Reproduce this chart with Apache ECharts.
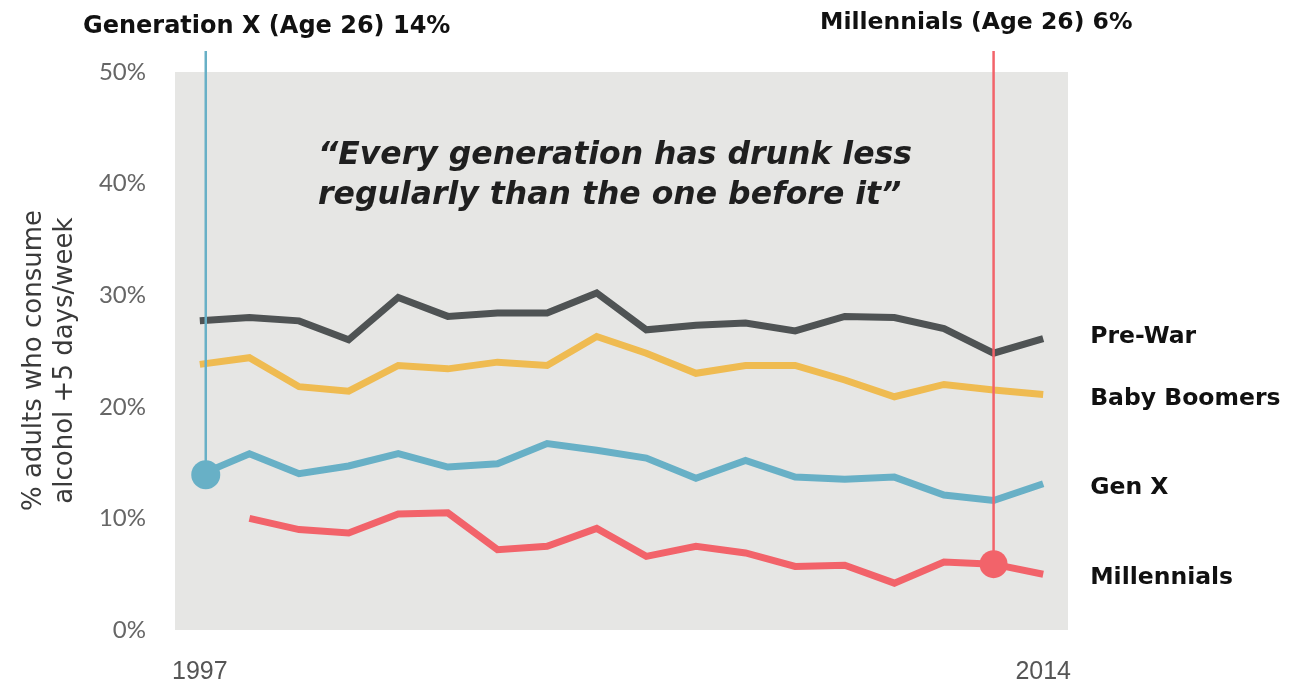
<!DOCTYPE html>
<html>
<head>
<meta charset="utf-8">
<script src="https://cdn.jsdelivr.net/npm/echarts@6/dist/echarts.min.js"></script>
<style>
  html, body { margin: 0; padding: 0; background: #ffffff; }
  #chart { width: 1301px; height: 686px; }
</style>
</head>
<body>
<div id="chart"></div>
<script>
// ---- data ----
const years = [1997, 1998, 1999, 2000, 2001, 2002, 2003, 2004, 2005, 2006, 2007, 2008, 2009, 2010, 2011, 2012, 2013, 2014];
const preWar      = [27.7, 28.0, 27.7, 26.0, 29.8, 28.1, 28.4, 28.4, 30.2, 26.9, 27.3, 27.5, 26.8, 28.1, 28.0, 27.0, 24.8, 26.1];
const babyBoomers = [23.8, 24.4, 21.8, 21.4, 23.7, 23.4, 24.0, 23.7, 26.3, 24.8, 23.0, 23.7, 23.7, 22.4, 20.9, 22.0, 21.5, 21.1];
const genX        = [13.9, 15.8, 14.0, 14.7, 15.8, 14.6, 14.9, 16.7, 16.1, 15.4, 13.6, 15.2, 13.7, 13.5, 13.7, 12.1, 11.6, 13.1];
const millennials = [null, 10.0, 9.0, 8.7, 10.4, 10.5, 7.2, 7.5, 9.1, 6.6, 7.5, 6.9, 5.7, 5.8, 4.2, 6.1, 5.9, 5.0];
const seriesNames = ['Pre-War', 'Baby Boomers', 'Gen X', 'Millennials'];
const xTickLabels = [1997, 2014];
const yTicks = [0, 10, 20, 30, 40, 50];
// callouts: [year position, value]
const calloutGenX = [1997.12, 13.9];
const calloutMill = [2013, 5.9];
const calloutTexts = ['Generation X (Age 26) 14%', 'Millennials (Age 26) 6%'];
const quoteText = '\u201CEvery generation has drunk less\nregularly than the one before it\u201D';
const yAxisName = '% adults who consume\nalcohol +5 days/week';

// ---- style ----
const colors = ['#4f5354', '#efbb51', '#68b0c6', '#f2636a'];
const FONT = 'Lato, "Open Sans", sans-serif';
const BOLD = '"DejaVu Sans", sans-serif';
const yMax = 51.88; // axis extends above 50% so callout lines reach the top
const labelShift = [-2, 4, 4, 4];

function pairs(arr) { return years.map((y, i) => [y, arr[i]]); }

function dataSeries(idx, arr, extra) {
  const name = seriesNames[idx], color = colors[idx];
  return Object.assign({
    name: name,
    type: 'line',
    data: pairs(arr),
    showSymbol: false,
    symbol: 'none',
    connectNulls: false,
    lineStyle: { width: 7, color: color, join: 'miter', cap: 'butt' },
    itemStyle: { color: color },
    z: 2,
    silent: true,
    endLabel: {
      show: true,
      formatter: name,
      distance: 47,
      offset: [0, labelShift[idx]],
      fontSize: 23.5,
      fontWeight: 'bold',
      color: '#111',
      fontFamily: BOLD
    }
  }, extra || {});
}

const chart = echarts.init(document.getElementById('chart'), null, { renderer: 'canvas' });

const option = {
  animation: false,
  backgroundColor: '#ffffff',
  title: [
    { text: calloutTexts[0], left: 78, top: 10, textStyle: { fontSize: 24, fontWeight: 'bold', color: '#111', fontFamily: BOLD } },
    { text: calloutTexts[1], left: 815, top: 6, textStyle: { fontSize: 23.5, fontWeight: 'bold', color: '#111', fontFamily: BOLD } },
    { text: quoteText, left: 313, top: 131, textStyle: { fontSize: 31.5, fontWeight: 'bold', fontStyle: 'italic', color: '#1f1f1f', lineHeight: 40, fontFamily: BOLD } }
  ],
  grid: { left: 175, right: 233, top: 51, bottom: 56, containLabel: false },
  xAxis: {
    type: 'value',
    min: 1996.5,
    max: 2014.5,
    interval: 0.5,
    axisLine: { show: false },
    axisTick: { show: false },
    splitLine: { show: false },
    axisLabel: {
      margin: 30,
      fontSize: 25,
      color: '#555',
      fontFamily: '"Liberation Sans Narrow", sans-serif',
      formatter: v => (xTickLabels.indexOf(Math.round(v * 100) / 100) >= 0 ? String(v) : '')
    }
  },
  yAxis: {
    type: 'value',
    min: 0,
    max: yMax,
    interval: 10,
    axisLine: { show: false },
    axisTick: { show: false },
    splitLine: { show: false },
    axisLabel: {
      margin: 29,
      fontSize: 24,
      color: '#666',
      fontFamily: FONT,
      formatter: v => (yTicks.indexOf(Math.round(v * 100) / 100) >= 0 ? v + '%' : '')
    },
    name: yAxisName,
    nameLocation: 'middle',
    nameRotate: 90,
    nameGap: 94,
    nameTextStyle: { fontSize: 26, color: '#3a3a3a', lineHeight: 31, fontFamily: '"DejaVu Sans", sans-serif', padding: [0, 40, 0, 0] }
  },
  series: [
    dataSeries(0, preWar, {
      markArea: {
        silent: true,
        itemStyle: { color: '#e6e6e4' },
        data: [[{ xAxis: 1996.5, yAxis: 0 }, { xAxis: 2014.5, yAxis: 50 }]]
      }
    }),
    dataSeries(1, babyBoomers),
    dataSeries(2, genX),
    dataSeries(3, millennials),
    {
      type: 'line', silent: true, symbol: 'none', z: 3,
      data: [[calloutGenX[0], calloutGenX[1]], [calloutGenX[0], yMax]],
      lineStyle: { width: 2.5, color: colors[2] }
    },
    {
      type: 'line', silent: true, symbol: 'none', z: 3,
      data: [[calloutMill[0], calloutMill[1]], [calloutMill[0], yMax]],
      lineStyle: { width: 2.5, color: colors[3] }
    },
    {
      type: 'scatter', silent: true, z: 4, symbolSize: 29,
      data: [calloutGenX], itemStyle: { color: colors[2], opacity: 1 }
    },
    {
      type: 'scatter', silent: true, z: 4, symbolSize: 28,
      data: [calloutMill], itemStyle: { color: colors[3], opacity: 1 }
    }
  ]
};

chart.setOption(option);
</script>
</body>
</html>
